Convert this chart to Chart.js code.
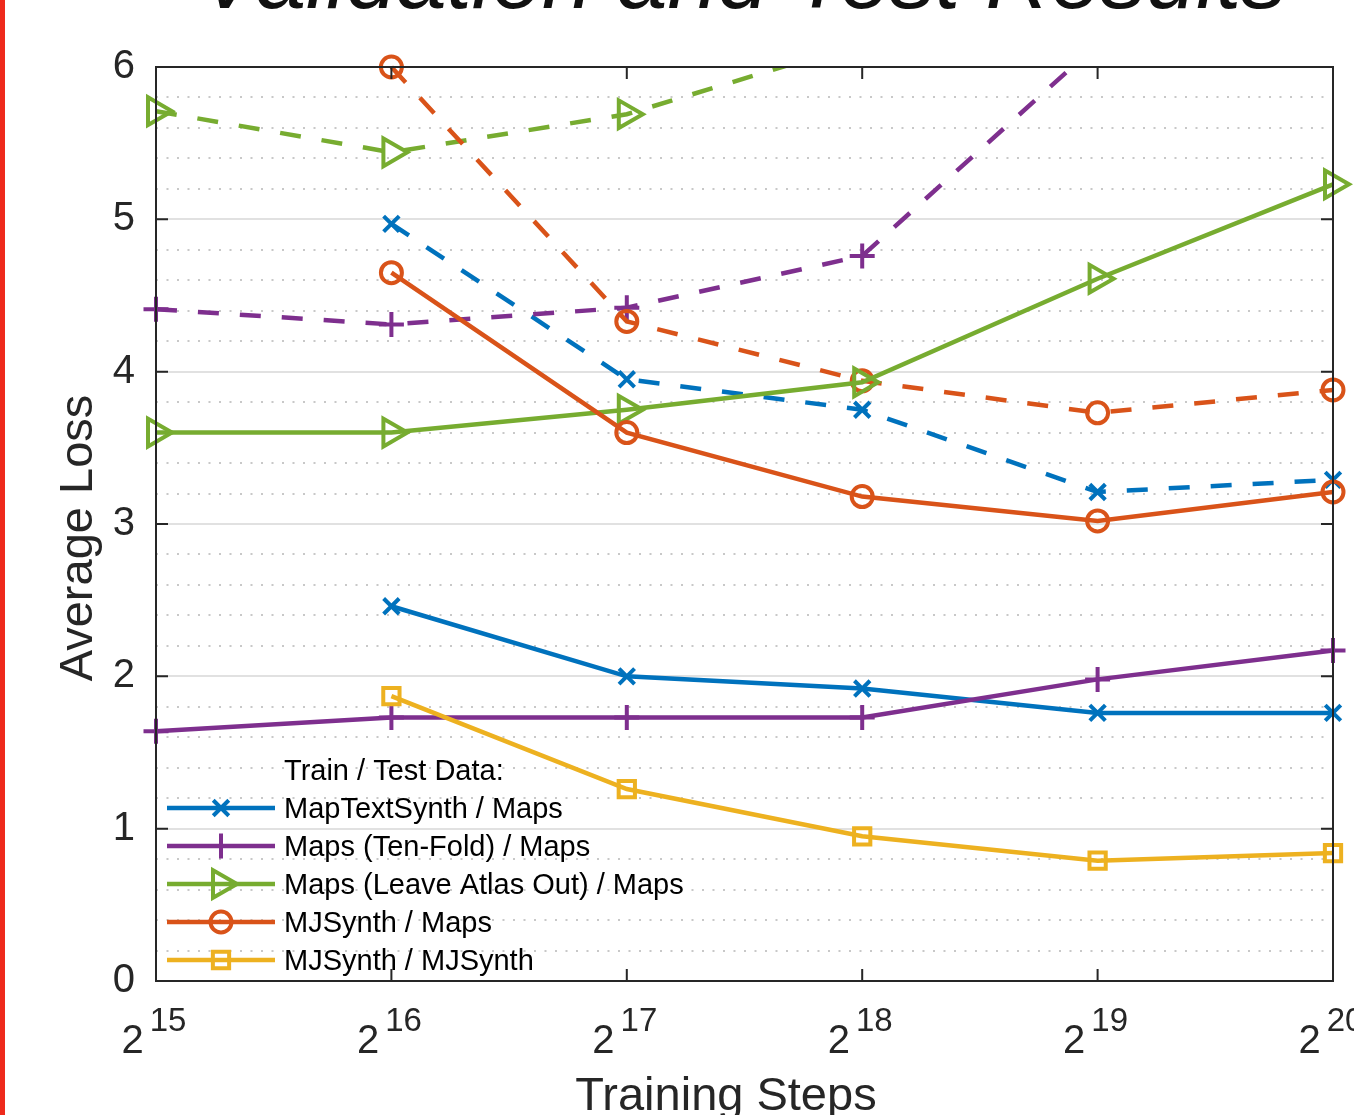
<!DOCTYPE html>
<html>
<head>
<meta charset="utf-8">
<title>Validation and Test Results</title>
<script src="https://cdn.jsdelivr.net/npm/chart.js@4.4.1/dist/chart.umd.min.js"></script>
<style>
  html, body { margin: 0; padding: 0; background: #fff; }
  #wrap { position: relative; width: 1354px; height: 1115px; overflow: hidden; }
  #edge { position: absolute; left: 0; top: 0; width: 3px; height: 1115px; background: #ee2a1c; border-right: 2px dotted #ee2a1c; }
</style>
</head>
<body>
<div id="wrap">
  <canvas id="loss-chart" width="1354" height="1115"></canvas>
  <div id="edge"></div>
</div>
<script>
const FONT = '"Liberation Sans", Arial, Helvetica, sans-serif';
const TEXT = '#262626';

// x positions are powers of two: 2^15 ... 2^20 training steps
const stepExponents = [15, 16, 17, 18, 19, 20];
const yMajorTicks = [0, 1, 2, 3, 4, 5, 6];

const seriesLabels = [
    'MapTextSynth / Maps',
    'Maps (Ten-Fold) / Maps',
    'Maps (Leave Atlas Out) / Maps',
    'MJSynth / Maps',
    'MJSynth / MJSynth',
];
const seriesColors = ['#0072bd', '#7e2f8e', '#77ac30', '#d95319', '#edb120'];
const seriesMarkers = ['crossRot', 'cross', 'triangle', 'circle', 'rect'];
const markerRadius = [11, 12.5, 16, 10.5, 11.5];
const markerRotation = [0, 0, 90, 0, 0];

// Test results (solid lines)
const testMapTextSynth = [null, 2.46, 2.00, 1.92, 1.76, 1.76];
const testTenFold      = [1.64, 1.73, 1.73, 1.73, 1.98, 2.17];
const testLeaveAtlas   = [3.60, 3.60, 3.75, 3.93, 4.61, 5.23];
const testMJSynthMaps  = [null, 4.65, 3.60, 3.18, 3.02, 3.21];
const testMJSynthMJ    = [null, 1.87, 1.26, 0.95, 0.79, 0.84];

// Validation results (dashed lines)
const valMapTextSynth = [null, 4.97, 3.95, 3.75, 3.21, 3.29];
const valTenFold      = [4.41, 4.31, 4.42, 4.76, 6.15, 6.60];
const valLeaveAtlas   = [5.71, 5.44, 5.69, 6.16, 6.50, 6.80];
const valMJSynthMaps  = [null, 6.00, 4.33, 3.94, 3.73, 3.88];

const Y_MAX = 6;
const LINE_W = 4.5;
const MARK_W = 4;

function isWhole(v) {
    return Math.abs(v - Math.round(v)) < 1e-6;
}

function makeDataset(i, values, dashed) {
    const overTop = values.some(v => v !== null && v > Y_MAX);
    return {
        label: seriesLabels[i] + (dashed ? ' (validation)' : ''),
        data: values.map((v, k) => ({ x: stepExponents[k], y: v })),
        borderColor: seriesColors[i],
        borderWidth: LINE_W,
        borderDash: dashed ? [21, 21] : [],
        pointStyle: seriesMarkers[i],
        pointRadius: markerRadius[i],
        pointRotation: markerRotation[i],
        pointBorderColor: seriesColors[i],
        pointBackgroundColor: 'rgba(0,0,0,0)',
        pointBorderWidth: MARK_W,
        tension: 0,
        fill: false,
        clip: { left: 30, right: 30, top: overTop ? 0 : 20, bottom: 30 },
    };
}

const datasets = [
    makeDataset(0, valMapTextSynth, true),
    makeDataset(1, valTenFold, true),
    makeDataset(2, valLeaveAtlas, true),
    makeDataset(3, valMJSynthMaps, true),
    makeDataset(0, testMapTextSynth, false),
    makeDataset(1, testTenFold, false),
    makeDataset(2, testLeaveAtlas, false),
    makeDataset(3, testMJSynthMaps, false),
    makeDataset(4, testMJSynthMJ, false),
];
// later series on top, like MATLAB plot order
datasets.forEach((d, i) => { d.order = datasets.length - i; });

function drawMarker(ctx, i, x, y) {
    ctx.save();
    ctx.strokeStyle = seriesColors[i];
    ctx.fillStyle = 'rgba(0,0,0,0)';
    ctx.lineWidth = MARK_W;
    ctx.setLineDash([]);
    Chart.helpers.drawPoint(ctx, {
        pointStyle: seriesMarkers[i],
        rotation: markerRotation[i],
        radius: markerRadius[i],
        borderWidth: MARK_W,
    }, x, y);
    ctx.restore();
}

// MATLAB-like axes box, inner ticks, power-of-two labels, titles and legend
const matlabDecor = {
    id: 'matlabDecor',
    afterDraw(chart) {
        const { ctx, chartArea: a, scales: { x, y } } = chart;
        ctx.save();

        // box
        ctx.strokeStyle = TEXT;
        ctx.lineWidth = 2;
        ctx.setLineDash([]);
        ctx.strokeRect(a.left, a.top, a.right - a.left, a.bottom - a.top);

        // ticks pointing inwards
        ctx.beginPath();
        stepExponents.forEach(e => {
            const px = x.getPixelForValue(e);
            ctx.moveTo(px, a.bottom); ctx.lineTo(px, a.bottom - 12);
            ctx.moveTo(px, a.top); ctx.lineTo(px, a.top + 12);
        });
        yMajorTicks.forEach(v => {
            const py = y.getPixelForValue(v);
            ctx.moveTo(a.left, py); ctx.lineTo(a.left + 12, py);
            ctx.moveTo(a.right, py); ctx.lineTo(a.right - 12, py);
        });
        ctx.stroke();

        // x tick labels: 2 with superscript exponent
        ctx.fillStyle = TEXT;
        ctx.textBaseline = 'alphabetic';
        ctx.textAlign = 'left';
        stepExponents.forEach(e => {
            const px = x.getPixelForValue(e);
            ctx.font = `40px ${FONT}`;
            const wBase = ctx.measureText('2').width;
            ctx.font = `33px ${FONT}`;
            const wExp = ctx.measureText(String(e)).width;
            const gap = 6;
            const start = px - (wBase + gap + wExp) / 2 - 2;
            ctx.font = `40px ${FONT}`;
            ctx.fillText('2', start, 1053);
            ctx.font = `33px ${FONT}`;
            ctx.fillText(String(e), start + wBase + gap, 1031);
        });

        // axis titles
        ctx.font = `47px ${FONT}`;
        ctx.textAlign = 'center';
        ctx.fillText('Training Steps', 726, 1110);
        ctx.save();
        ctx.translate(92, 538);
        ctx.rotate(-Math.PI / 2);
        ctx.fillText('Average Loss', 0, 0);
        ctx.restore();

        // chart title, mostly cut off by the top edge
        ctx.fillStyle = '#111';
        ctx.textAlign = 'left';
        ctx.font = `italic 90px ${FONT}`;
        const titleText = 'Validation and Test Results';
        const tw = ctx.measureText(titleText).width;
        ctx.font = `italic ${(90 * 1088 / tw).toFixed(1)}px ${FONT}`;
        ctx.fillText(titleText, 199, 8);

        // legend (solid / test series only)
        ctx.fillStyle = '#000';
        ctx.font = `29px ${FONT}`;
        ctx.textAlign = 'left';
        ctx.fillText('Train / Test Data:', 284, 780);
        seriesLabels.forEach((label, i) => {
            const cy = 808 + 38 * i;
            ctx.strokeStyle = seriesColors[i];
            ctx.lineWidth = LINE_W;
            ctx.beginPath();
            ctx.moveTo(167, cy);
            ctx.lineTo(275, cy);
            ctx.stroke();
            drawMarker(ctx, i, 221, cy);
            ctx.fillStyle = '#000';
            ctx.font = `29px ${FONT}`;
            ctx.fillText(label, 284, cy + 10);
        });

        ctx.restore();
    }
};

const ctx = document.getElementById('loss-chart').getContext('2d');
new Chart(ctx, {
    type: 'line',
    data: { datasets },
    options: {
        responsive: false,
        animation: false,
        devicePixelRatio: 1,
        events: [],
        layout: { padding: { top: 67, right: 21, bottom: 0, left: 0 } },
        scales: {
            x: {
                type: 'linear',
                min: stepExponents[0],
                max: stepExponents[stepExponents.length - 1],
                ticks: { display: false },
                grid: { display: false },
                border: { display: false },
                afterFit: (scale) => { scale.height = 134; },
            },
            y: {
                type: 'linear',
                min: 0,
                max: Y_MAX,
                ticks: {
                    stepSize: 0.2,
                    maxTicksLimit: 100,
                    autoSkip: false,
                    padding: 21,
                    color: TEXT,
                    font: { family: FONT, size: 40 },
                    callback: (v) => isWhole(v) ? String(Math.round(v)) : '',
                },
                grid: {
                    drawTicks: false,
                    lineWidth: 2,
                    color: (c) => {
                        const v = c.tick.value;
                        if (v <= 0 || v >= Y_MAX) return 'rgba(0,0,0,0)';
                        return isWhole(v) ? '#e1e1e1' : '#c8c8c8';
                    },
                },
                border: {
                    display: false,
                    dash: (c) => (c.tick && !isWhole(c.tick.value)) ? [2, 8.5] : [],
                },
                afterFit: (scale) => { scale.width = 156; },
            },
        },
        plugins: {
            legend: { display: false },
            tooltip: { enabled: false },
        },
    },
    plugins: [matlabDecor],
});
</script>
</body>
</html>
